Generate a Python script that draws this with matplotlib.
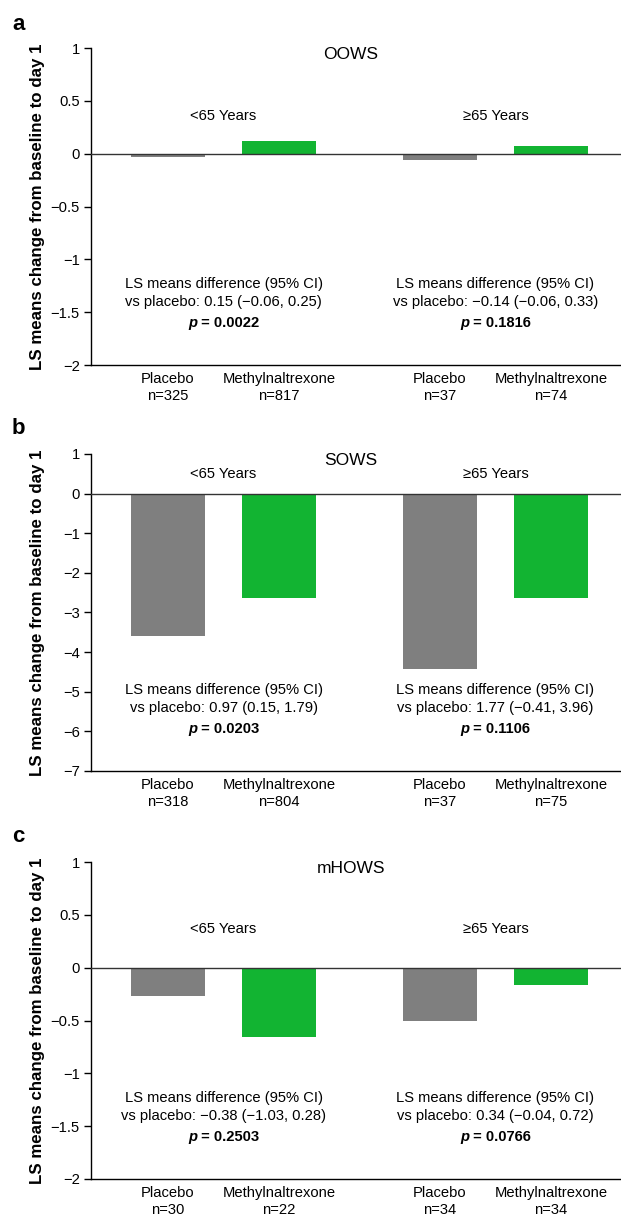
import matplotlib
matplotlib.use("Agg")
import matplotlib.pyplot as plt
from matplotlib.offsetbox import TextArea, HPacker, AnnotationBbox

plt.rcParams['font.family'] = ['Liberation Sans', 'DejaVu Sans']
plt.rcParams['axes.unicode_minus'] = True

# data
panels = ["a", "b", "c"]
scales = ["OOWS", "SOWS", "mHOWS"]
groups = ["<65 Years", "\u226565 Years"]
arms = ["Placebo", "Methylnaltrexone"]

placebo_vals = [[-0.03, -0.06], [-3.60, -4.42], [-0.27, -0.50]]
mntx_vals = [[0.12, 0.07], [-2.64, -2.64], [-0.66, -0.16]]

n_placebo = [[325, 37], [318, 37], [30, 34]]
n_mntx = [[817, 74], [804, 75], [22, 34]]

diff_text = [
    ["vs placebo: 0.15 (\u22120.06, 0.25)", "vs placebo: \u22120.14 (\u22120.06, 0.33)"],
    ["vs placebo: 0.97 (0.15, 1.79)", "vs placebo: 1.77 (\u22120.41, 3.96)"],
    ["vs placebo: \u22120.38 (\u22121.03, 0.28)", "vs placebo: 0.34 (\u22120.04, 0.72)"],
]
p_vals = [["0.0022", "0.1816"], ["0.0203", "0.1106"], ["0.2503", "0.0766"]]

yticks = [
    [1, 0.5, 0, -0.5, -1, -1.5, -2],
    [1, 0, -1, -2, -3, -4, -5, -6, -7],
    [1, 0.5, 0, -0.5, -1, -1.5, -2],
]
ytick_labels = [
    ["1", "0.5", "0", "\u22120.5", "\u22121", "\u22121.5", "\u22122"],
    ["1", "0", "\u22121", "\u22122", "\u22123", "\u22124", "\u22125", "\u22126", "\u22127"],
    ["1", "0.5", "0", "\u22120.5", "\u22121", "\u22121.5", "\u22122"],
]
group_label_y = [0.785, 0.937, 0.789]

# layout
W, H = 621, 1215
pos = [1, 2, 3.45, 4.45]
bar_w = 0.667
xlim = (0.306, 5.081)
ax_tops = [48, 454, 862]
ax_h = 317
grey = "#7F7F7F"
green = "#12B432"
fs = 10.6

fig = plt.figure(figsize=(W / 100, H / 100), dpi=100)

for i in range(3):
    bottom = 1 - (ax_tops[i] + ax_h) / H
    ax = fig.add_axes([91 / W, bottom, 530 / W, ax_h / H])
    vals = [placebo_vals[i][0], mntx_vals[i][0], placebo_vals[i][1], mntx_vals[i][1]]
    cols = [grey, green, grey, green]
    ax.bar(pos, vals, width=bar_w, color=cols, zorder=2)
    ax.axhline(0, color="#333333", lw=1.0, zorder=3)
    ax.set_xlim(*xlim)
    ax.set_ylim(yticks[i][-1], yticks[i][0])
    ax.set_yticks(yticks[i])
    ax.set_yticklabels(ytick_labels[i], fontsize=fs)
    xl = [f"{arms[0]}\nn={n_placebo[i][0]}", f"{arms[1]}\nn={n_mntx[i][0]}",
          f"{arms[0]}\nn={n_placebo[i][1]}", f"{arms[1]}\nn={n_mntx[i][1]}"]
    ax.set_xticks(pos)
    ax.set_xticklabels(xl, fontsize=fs, linespacing=1.25)
    ax.tick_params(axis="x", length=0, pad=5)
    ax.tick_params(axis="y", length=5, width=1, pad=3, direction="out")
    ax.spines["top"].set_visible(False)
    ax.spines["right"].set_visible(False)
    ax.spines["left"].set_linewidth(1)
    ax.spines["bottom"].set_linewidth(1)
    ax.set_ylabel("LS means change from baseline to day 1", fontsize=12.2, fontweight="bold")
    ax.yaxis.set_label_coords(-0.087, 0.5)

    ax.text(0.49, 0.98, scales[i], transform=ax.transAxes, ha="center", va="center", fontsize=12.5)

    for g in range(2):
        cx = (pos[2 * g] + pos[2 * g + 1]) / 2
        ax.text(cx, group_label_y[i], groups[g], transform=ax.get_xaxis_transform(),
                ha="center", va="center", fontsize=fs)
        ax.text(cx, 0.254, "LS means difference (95% CI)", transform=ax.get_xaxis_transform(),
                ha="center", va="center", fontsize=fs)
        ax.text(cx, 0.2, diff_text[i][g], transform=ax.get_xaxis_transform(),
                ha="center", va="center", fontsize=fs)
        pbox = HPacker(children=[
            TextArea("p", textprops=dict(fontsize=fs, fontweight="bold", fontstyle="italic")),
            TextArea(" = " + p_vals[i][g], textprops=dict(fontsize=fs, fontweight="bold")),
        ], align="baseline", pad=0, sep=0)
        ab = AnnotationBbox(pbox, (cx, 0.134), xycoords=ax.get_xaxis_transform(),
                            frameon=False, box_alignment=(0.5, 0.5), pad=0)
        ax.add_artist(ab)

    fig.text(12 / W, 1 - [24, 429, 836][i] / H, panels[i], fontsize=16, fontweight="bold",
             ha="left", va="center")

fig.savefig("out.png", dpi=100)
